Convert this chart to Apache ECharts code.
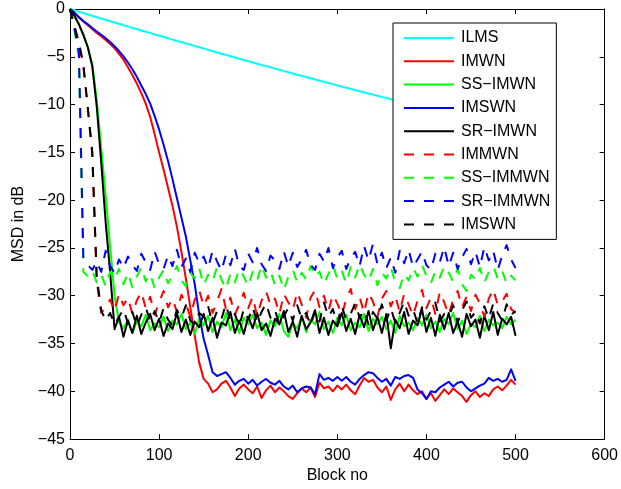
<!DOCTYPE html>
<html><head><meta charset="utf-8">
<script src="https://cdn.jsdelivr.net/npm/echarts@6/dist/echarts.min.js"></script>
<style>html,body{margin:0;padding:0;background:#fff}#c{width:621px;height:489px}</style>
</head><body><div id="c"></div>
<script>
// Block numbers at which each curve is sampled
const blocks = [0,5,10,15,20,25,30,35,40,45,50,
55,60,65,70,75,80,85,90,95,100,
105,110,115,120,125,130,135,140,145,150,
155,160,165,170,175,180,185,190,195,200,
205,210,215,220,225,230,235,240,245,250,
255,260,265,270,275,280,285,290,295,300,
305,310,315,320,325,330,335,340,345,350,
355,360,365,370,375,380,385,390,395,400,
405,410,415,420,425,430,435,440,445,450,
455,460,465,470,475,480,485,490,495,500];

const xTicks = [0,100,200,300,400,500,600];
const yTicks = [0,-5,-10,-15,-20,-25,-30,-35,-40,-45];

const ilms = [0,-0.12,-0.3,-0.42,-0.58,-0.7,-0.86,-1.0,-1.12,-1.28,-1.42,
-1.55,-1.7,-1.82,-1.98,-2.1,-2.25,-2.38,-2.5,-2.66,-2.8,
-2.9,-3.06,-3.2,-3.34,-3.45,-3.6,-3.72,-3.88,-4.0,-4.12,
-4.28,-4.4,-4.55,-4.68,-4.8,-4.95,-5.08,-5.2,-5.34,-5.45,
-5.6,-5.72,-5.85,-5.98,-6.1,-6.24,-6.35,-6.5,-6.62,-6.74,
-6.88,-7.0,-7.12,-7.25,-7.38,-7.5,-7.62,-7.75,-7.86,-8.0,
-8.1,-8.24,-8.35,-8.48,-8.6,-8.72,-8.84,-8.96,-9.08,-9.2,
-9.3,-9.45,-9.55,-9.66,-9.78,-9.9,-10.0,-10.12,-10.24,-10.35,
-10.45,-10.58,-10.68,-10.8,-10.9,-11.02,-11.12,-11.24,-11.34,-11.45,
-11.56,-11.66,-11.78,-11.88,-11.98,-12.1,-12.2,-12.3,-12.42,-12.5];

const imwn = [0,-0.4,-0.9,-1.3,-1.7,-2.1,-2.5,-2.85,-3.25,-3.65,-4.1,
-4.7,-5.3,-6.1,-6.9,-7.8,-8.8,-9.9,-11.3,-13.1,-15.0,
-16.8,-18.7,-20.6,-22.8,-25.4,-28.2,-31.2,-34.2,-37.0,-38.7,
-39.2,-40.1,-39.8,-39.2,-38.9,-39.6,-40.5,-39.7,-39.3,-39.8,
-40.2,-39.5,-40.7,-39.9,-39.4,-40.1,-39.6,-40.0,-40.5,-40.8,
-40.2,-39.7,-40.1,-39.6,-40.6,-39.1,-39.7,-39.5,-40.0,-39.4,
-39.8,-39.3,-39.9,-40.3,-39.4,-38.6,-39.0,-38.8,-39.6,-40.1,
-39.5,-40.9,-39.8,-39.2,-40.0,-39.3,-39.9,-40.3,-40.0,-40.8,
-40.2,-41.0,-40.4,-39.8,-40.3,-39.7,-40.1,-40.5,-41.1,-40.4,
-40.0,-40.6,-40.2,-40.5,-39.8,-39.5,-39.9,-39.4,-38.8,-39.3];

const ssImwn = [0,-0.7,-1.6,-2.7,-4.0,-5.8,-9.5,-14.5,-19.5,-24.8,-30.0,
-32.8,-33.4,-32.5,-33.9,-32.7,-33.2,-32.0,-33.6,-32.9,-33.3,
-32.2,-33.7,-32.6,-33.0,-31.9,-33.5,-32.8,-34.0,-32.4,-33.1,
-32.1,-33.8,-32.7,-33.3,-31.8,-33.6,-32.5,-33.9,-32.3,-33.0,
-32.0,-33.4,-32.8,-34.1,-32.6,-33.2,-31.9,-33.7,-34.3,-32.9,
-33.4,-32.2,-33.8,-32.5,-33.0,-31.7,-33.5,-32.7,-33.9,-32.3,
-33.1,-32.0,-33.6,-32.8,-33.3,-31.9,-33.7,-32.4,-33.0,-32.2,
-33.5,-32.6,-33.9,-32.1,-33.2,-32.8,-33.6,-32.3,-33.1,-32.0,
-33.4,-32.7,-33.8,-32.4,-33.0,-31.8,-33.5,-32.6,-34.0,-32.9,
-33.3,-32.1,-33.7,-32.5,-33.1,-32.8,-33.4,-32.2,-33.0,-32.5];

const imswn = [0,-0.4,-0.85,-1.25,-1.6,-2.0,-2.35,-2.7,-3.05,-3.45,-3.9,
-4.4,-4.95,-5.6,-6.3,-7.1,-8.0,-8.9,-9.9,-11.2,-12.6,
-14.2,-15.9,-17.8,-19.8,-21.8,-23.8,-26.3,-28.8,-32.0,-34.5,
-36.2,-38.0,-38.4,-38.2,-38.0,-38.6,-39.3,-38.9,-38.7,-39.2,
-38.8,-39.4,-39.0,-38.7,-39.1,-39.3,-38.9,-39.5,-39.8,-39.4,
-40.1,-39.7,-39.5,-39.6,-40.3,-38.2,-38.8,-38.6,-38.9,-38.5,
-38.9,-38.5,-39.0,-39.3,-38.7,-38.3,-38.0,-38.1,-38.6,-39.0,
-38.7,-39.4,-38.5,-38.7,-38.4,-38.3,-38.6,-39.8,-40.2,-40.8,
-40.0,-40.1,-39.6,-39.3,-39.0,-39.5,-39.1,-39.0,-39.6,-40.0,
-39.7,-39.4,-39.2,-38.6,-38.9,-38.7,-39.0,-38.8,-37.7,-38.9];

const srImwn = [0,-0.7,-1.6,-2.7,-4.0,-6.0,-10.2,-16.0,-22.3,-27.5,-33.5,
-32.2,-34.3,-32.6,-33.9,-32.1,-34.0,-32.8,-31.9,-33.6,-32.4,
-34.2,-32.9,-33.5,-31.8,-33.8,-32.5,-34.1,-32.7,-33.3,-31.9,
-33.7,-32.3,-34.4,-32.8,-33.1,-31.7,-33.9,-32.6,-34.0,-32.2,
-33.4,-31.8,-33.6,-32.9,-34.2,-32.4,-33.0,-31.6,-33.8,-32.7,
-34.3,-32.1,-33.5,-32.8,-31.5,-33.9,-32.3,-34.1,-32.6,-33.2,
-31.8,-33.7,-32.4,-34.0,-32.0,-33.3,-31.6,-33.6,-32.2,-33.9,
-31.9,-35.5,-32.5,-33.4,-31.7,-34.0,-32.6,-33.1,-31.4,-33.8,
-32.3,-34.2,-32.0,-33.5,-31.8,-33.9,-32.7,-34.3,-31.9,-33.2,
-32.5,-34.4,-32.1,-33.6,-31.7,-34.1,-32.4,-33.0,-32.2,-34.2];

const immwn = [0,-1.9,-3.6,-6.0,-10.5,-15.2,-28.5,-31.8,-31.2,-30.4,-31.6,
-29.8,-31.0,-30.2,-31.9,-30.5,-29.6,-31.3,-30.1,-32.0,-30.7,
-29.5,-31.2,-30.3,-31.7,-29.9,-30.8,-32.2,-30.4,-29.4,-31.1,
-30.0,-31.8,-30.6,-29.3,-31.4,-30.2,-32.0,-30.9,-29.7,-31.3,
-30.1,-32.1,-30.5,-29.5,-31.0,-30.3,-31.9,-29.8,-30.7,-31.5,
-29.6,-30.9,-32.3,-30.2,-29.4,-31.2,-30.0,-31.6,-29.9,-30.8,
-32.0,-30.4,-29.3,-31.4,-30.1,-31.8,-29.7,-30.6,-32.2,-30.3,
-29.5,-31.1,-30.0,-31.7,-29.8,-30.9,-32.1,-30.5,-29.4,-31.3,
-30.2,-31.9,-29.6,-30.7,-32.0,-30.4,-29.5,-31.2,-30.1,-31.6,
-29.9,-30.8,-32.2,-30.3,-29.3,-31.0,-30.6,-29.8,-31.4,-31.8];

const ssImmwn = [0,-2.2,-5.0,-27.5,-28.0,-27.4,-28.6,-27.8,-29.0,-27.5,-28.3,
-27.2,-28.8,-27.6,-29.1,-28.0,-27.0,-28.5,-27.7,-29.2,-28.1,
-27.3,-28.7,-27.9,-26.9,-28.4,-29.0,-27.6,-28.2,-27.1,-28.9,
-27.8,-28.5,-27.0,-28.3,-29.3,-27.7,-28.6,-27.2,-28.0,-29.0,
-27.5,-28.4,-26.8,-28.1,-27.4,-28.9,-27.9,-29.4,-28.0,-27.3,
-28.6,-27.6,-28.3,-26.9,-28.0,-27.5,-28.8,-27.7,-26.8,-28.2,
-27.4,-28.7,-27.0,-28.1,-26.7,-27.8,-28.5,-27.2,-28.9,-27.6,
-28.2,-27.0,-28.6,-29.2,-27.7,-28.4,-27.1,-28.0,-26.8,-27.9,
-28.7,-27.4,-28.1,-26.9,-27.6,-28.5,-27.2,-28.8,-29.5,-27.8,
-28.3,-27.1,-28.6,-27.5,-26.9,-28.2,-27.4,-28.7,-27.9,-28.4];

const srImmwn = [0,-2.0,-4.6,-26.0,-26.8,-27.3,-26.4,-27.5,-25.3,-26.9,-27.6,
-26.2,-27.1,-25.9,-26.8,-27.4,-25.6,-26.5,-27.3,-25.4,-26.7,
-27.2,-25.8,-26.9,-25.2,-27.0,-26.1,-27.5,-25.5,-26.6,-25.9,
-27.1,-25.3,-26.4,-27.4,-25.7,-26.8,-25.1,-26.9,-27.3,-25.6,
-26.5,-25.0,-26.7,-27.4,-25.8,-26.3,-27.2,-25.4,-26.9,-25.5,
-27.0,-26.2,-25.2,-26.8,-27.3,-25.6,-26.4,-25.0,-27.1,-26.0,
-25.3,-27.2,-26.1,-25.4,-26.9,-24.8,-26.3,-24.6,-26.7,-25.5,
-27.1,-26.0,-27.6,-25.3,-26.6,-25.2,-27.0,-26.2,-25.4,-26.8,
-27.3,-25.6,-26.5,-24.9,-26.9,-25.5,-27.2,-26.0,-25.1,-26.7,
-25.4,-27.0,-24.9,-26.3,-25.3,-27.3,-25.8,-24.7,-26.2,-27.1];

const imswnDashed = [0,-1.8,-3.5,-5.8,-10.3,-15.0,-28.0,-31.5,-32.6,-31.8,-33.0,
-32.2,-31.4,-32.9,-31.7,-33.2,-32.0,-31.2,-32.7,-31.6,-32.8,
-31.3,-32.5,-33.1,-31.5,-32.3,-31.0,-32.6,-33.0,-31.8,-32.2,
-31.1,-32.9,-31.6,-32.4,-30.9,-32.7,-31.9,-33.2,-31.4,-32.5,
-31.2,-32.8,-31.7,-30.8,-32.3,-31.5,-33.0,-32.1,-31.3,-32.6,
-31.0,-32.4,-31.8,-33.1,-31.6,-32.7,-30.7,-32.2,-31.4,-32.9,
-31.1,-32.5,-31.9,-30.8,-32.3,-31.5,-33.0,-31.7,-32.4,-30.9,
-32.6,-31.3,-32.8,-31.8,-30.6,-32.1,-31.4,-32.9,-31.2,-32.5,
-31.6,-30.7,-32.7,-31.9,-32.2,-31.0,-32.8,-31.5,-30.6,-32.3,
-31.7,-32.9,-31.1,-32.4,-30.8,-31.8,-32.6,-30.9,-32.0,-31.6];

const names = ['ILMS','IMWN','SS\u2212IMWN','IMSWN','SR\u2212IMWN','IMMWN','SS\u2212IMMWN','SR\u2212IMMWN','IMSWN '];

const FONT = '"Liberation Sans", Arial, Helvetica, sans-serif';
const defs = [
  {name:names[0], y:ilms, color:'#00FFFF', dashed:false},
  {name:names[1], y:imwn, color:'#FF0000', dashed:false},
  {name:names[2], y:ssImwn, color:'#00FF00', dashed:false},
  {name:names[3], y:imswn, color:'#0000FF', dashed:false},
  {name:names[4], y:srImwn, color:'#000000', dashed:false},
  {name:names[5], y:immwn, color:'#FF0000', dashed:true},
  {name:names[6], y:ssImmwn, color:'#00FF00', dashed:true},
  {name:names[7], y:srImmwn, color:'#0000FF', dashed:true},
  {name:names[8], y:imswnDashed, color:'#000000', dashed:true}
];
defs.forEach(d => { if (d.y.length !== blocks.length) throw new Error(d.name + ' length ' + d.y.length); });

const minus = v => (v < 0 ? '\u2212' + (-v) : String(v));
const axisLine = {show:true, onZero:false, lineStyle:{color:'#000', width:1}};
const tick = {show:true, inside:true, length:5, lineStyle:{color:'#000', width:1}};
const xMin = xTicks[0], xMax = xTicks[xTicks.length-1], xInt = xTicks[1]-xTicks[0];
const yMax = yTicks[0], yMin = yTicks[yTicks.length-1], yInt = yTicks[0]-yTicks[1];

const chart = echarts.init(document.getElementById('c'), null, {renderer:'canvas'});
chart.setOption({
  animation:false,
  backgroundColor:'#fff',
  grid:{left:70, right:13, top:9, bottom:49, containLabel:false},
  legend:{
    orient:'vertical', left:393, top:23,
    padding:[7,6,7,10], itemWidth:50, itemHeight:14, itemGap:7.3,
    borderColor:'#000', borderWidth:1, borderRadius:0, backgroundColor:'#fff',
    itemStyle:{opacity:0},
    textStyle:{fontSize:16, fontFamily:FONT, color:'#000', padding:[0,0,0,2]},
    formatter: n => n.trim(),
    data:names
  },
  xAxis:[
    {type:'value', min:xMin, max:xMax, interval:xInt, position:'bottom',
     axisLine, axisTick:tick, splitLine:{show:false},
     axisLabel:{color:'#000', fontSize:16, fontFamily:FONT, margin:8},
     name:'Block no', nameLocation:'middle', nameGap:27,
     nameTextStyle:{color:'#000', fontSize:16, fontFamily:FONT}},
    {type:'value', min:xMin, max:xMax, interval:xInt, position:'top',
     axisLine, axisTick:tick, splitLine:{show:false}, axisLabel:{show:false}}
  ],
  yAxis:[
    {type:'value', min:yMin, max:yMax, interval:yInt, position:'left',
     axisLine, axisTick:tick, splitLine:{show:false},
     axisLabel:{color:'#000', fontSize:16, fontFamily:FONT, margin:5, formatter:minus},
     name:'MSD in dB', nameLocation:'middle', nameGap:42,
     nameTextStyle:{color:'#000', fontSize:16, fontFamily:FONT}},
    {type:'value', min:yMin, max:yMax, interval:yInt, position:'right',
     axisLine, axisTick:tick, splitLine:{show:false}, axisLabel:{show:false}}
  ],
  series: defs.map(d => ({
    name:d.name, type:'line', xAxisIndex:0, yAxisIndex:0,
    data: blocks.map((x,i) => [x, d.y[i]]),
    symbol:'none', showSymbol:false, smooth:false,
    color:d.color,
    lineStyle:{color:d.color, width:2, type: d.dashed ? [10,10] : 'solid', join:'round'},
    emphasis:{disabled:true}
  }))
});
</script></body></html>
